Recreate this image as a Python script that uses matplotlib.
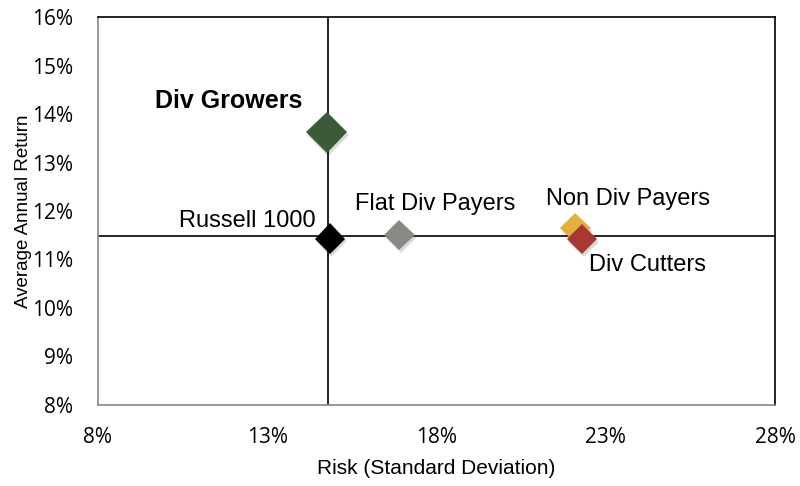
import matplotlib
matplotlib.use("Agg")
import matplotlib.pyplot as plt
import matplotlib.patheffects as pe

# risk / return of each group, in percent
names = ["Div Growers", "Russell 1000", "Flat Div Payers", "Non Div Payers", "Div Cutters"]
risk = [14.75, 14.85, 16.9, 22.1, 22.3]
ret = [13.62, 11.43, 11.5, 11.65, 11.42]
colors = ["#3c5a3a", "#000000", "#888982", "#e3af3f", "#a63a33"]
sizes = [21, 15.5, 15.5, 15.5, 15.5]

# reference lines (Russell 1000 crosshair)
vline = 14.8
hline = 11.48

xticks = [8, 13, 18, 23, 28]
yticks = [8, 9, 10, 11, 12, 13, 14, 15, 16]

plt.rcParams['font.family'] = ['Liberation Sans', 'DejaVu Sans']

fig = plt.figure(figsize=(8, 4.86), dpi=100)
ax = fig.add_axes([0.1225, 0.1667, 0.8465, 0.7983])

ax.axvline(vline, color="black", lw=1.2, zorder=1)
ax.axhline(hline, color="black", lw=1.2, zorder=1)

shadow = [pe.SimplePatchShadow(offset=(1, -2), shadow_rgbFace="black", alpha=0.15), pe.Normal()]
for i in range(len(names)):
    ax.plot([risk[i]], [ret[i]], marker="D", markersize=sizes[i], color=colors[i],
            markeredgewidth=0, linestyle="none", zorder=3 + i, path_effects=shadow)

# labels
ax.text(11.85, 14.27, names[0], fontsize=18, fontweight="bold", ha="center", va="center")
ax.text(12.42, 11.79, names[1], fontsize=17, ha="center", va="center")
ax.text(17.97, 12.14, names[2], fontsize=17, ha="center", va="center")
ax.text(23.66, 12.25, names[3], fontsize=17, ha="center", va="center")
ax.text(24.23, 10.89, names[4], fontsize=17, ha="center", va="center")

ax.set_xlim(8, 28)
ax.set_ylim(8, 16)
ax.set_xticks(xticks)
ax.set_yticks(yticks)
ax.set_xticklabels([f"{t}%" for t in xticks], fontsize=15, family="Open Sans")
ax.set_yticklabels([f"{t}%" for t in yticks], fontsize=15, family="Open Sans")
ax.tick_params(length=0)
ax.tick_params(axis="x", pad=16)
ax.tick_params(axis="y", pad=18)

ax.set_xlabel("Risk (Standard Deviation)", fontsize=15, labelpad=8)
ax.set_ylabel("Average Annual Return", fontsize=13.5, labelpad=0)

for side in ["left", "bottom"]:
    ax.spines[side].set_color("#888888")
for side in ["top", "right"]:
    ax.spines[side].set_color("black")
for s in ax.spines.values():
    s.set_linewidth(1.2)

fig.savefig("out.png", dpi=100)
